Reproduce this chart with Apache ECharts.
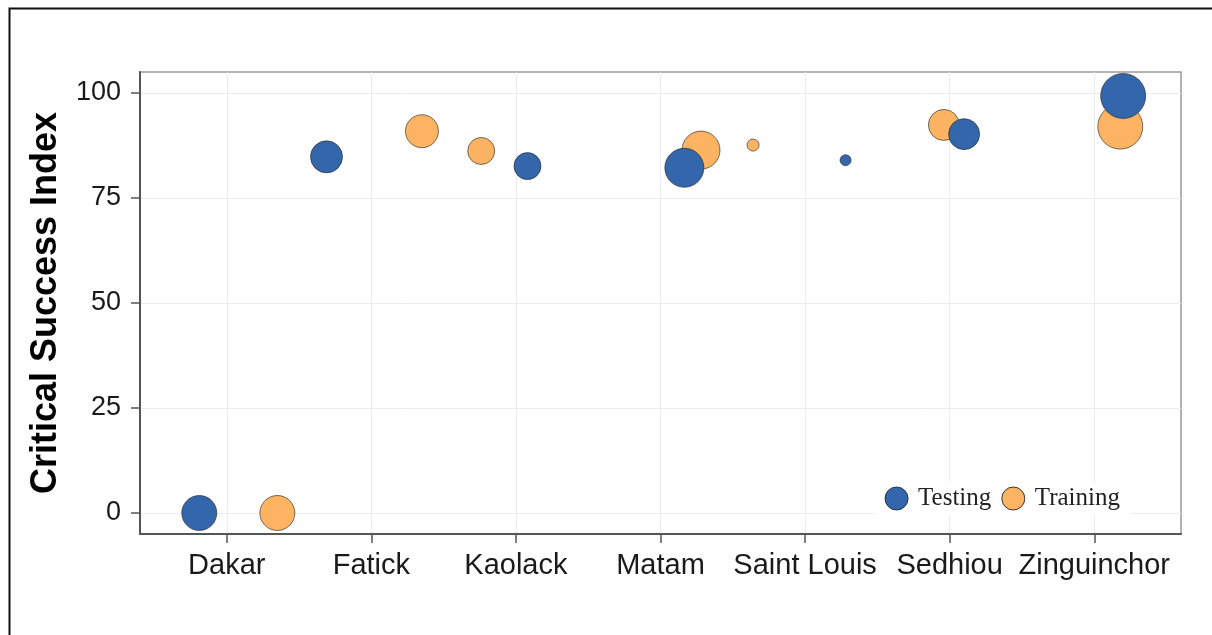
<!DOCTYPE html>
<html>
<head>
<meta charset="utf-8">
<script src="https://cdn.jsdelivr.net/npm/echarts@6/dist/echarts.min.js"></script>
<style>
html,body{margin:0;padding:0;background:#fff;}
#c{width:1212px;height:635px;}
</style>
</head>
<body>
<div id="c"></div>
<script>
// ---- data ----
const categories = ['Dakar', 'Fatick', 'Kaolack', 'Matam', 'Saint Louis', 'Sedhiou', 'Zinguinchor'];
const yTicks = [0, 25, 50, 75, 100];
const testingCSI = [0, 84.8, 82.6, 82.2, 84.0, 90.2, 99.3];
const trainingCSI = [0, 90.9, 86.2, 86.4, 87.6, 92.4, 92.0];
// horizontal jitter of each point, in category units
const testingJitter = [-0.19, -0.31, 0.08, 0.165, 0.28, 0.10, 0.20];
const trainingJitter = [0.35, 0.35, -0.24, 0.28, -0.36, -0.04, 0.18];
// bubble magnitude (drawn as diameter)
const testingBubble = [35, 32, 27, 39, 11, 31, 45];
const trainingBubble = [35, 33, 27, 38, 12, 31, 45];

const BLUE = '#3466ab';
const ORANGE = '#fdb462';

function build(vals, jit, bub) {
  return vals.map((v, i) => [i + jit[i], v, bub[i]]);
}
const catIdx = categories.map((_, i) => i);

const chart = echarts.init(document.getElementById('c'), null, {renderer: 'canvas'});
chart.setOption({
  animation: false,
  backgroundColor: '#ffffff',
  graphic: [{
    type: 'rect', left: 7, top: 6, silent: true,
    shape: {x: 0, y: 0, width: 1230, height: 660},
    style: {fill: 'none', stroke: '#111', lineWidth: 2}
  }],
  grid: {left: 140, right: 31, top: 72, bottom: 101, show: true, borderColor: '#9a9a9a', borderWidth: 1.5, backgroundColor: 'transparent'},
  legend: {
    data: ['Testing', 'Training'],
    right: 82, top: 482,
    backgroundColor: '#ffffff',
    padding: [4, 10, 4, 10],
    itemWidth: 23, itemHeight: 23, itemGap: 10,
    icon: 'circle',
    itemStyle: {borderColor: '#333', borderWidth: 1},
    textStyle: {fontFamily: 'Liberation Serif', fontSize: 25, color: '#222', padding: [0, 0, 0, 5]}
  },
  xAxis: {
    type: 'value', min: -0.6, max: 6.6, interval: 1,
    axisLine: {show: true, onZero: false, lineStyle: {color: '#555', width: 2}},
    axisTick: {show: true, length: 9, customValues: catIdx, lineStyle: {color: '#555', width: 1.5}},
    axisLabel: {
      customValues: catIdx, margin: 17,
      fontFamily: 'Liberation Sans', fontSize: 29, color: '#1a1a1a',
      formatter: v => (Number.isInteger(v) && categories[v] !== undefined) ? categories[v] : ''
    },
    splitLine: {show: true, lineStyle: {color: '#ececec', width: 1}}
  },
  yAxis: {
    type: 'value', min: -5, max: 105, interval: 25,
    name: 'Critical Success Index', nameLocation: 'middle', nameGap: 76, nameRotate: 90,
    nameTextStyle: {fontFamily: 'Liberation Sans', fontWeight: 'bold', fontSize: 36, color: '#000'},
    axisLine: {show: true, onZero: false, lineStyle: {color: '#555', width: 2}},
    axisTick: {show: true, length: 9, customValues: yTicks, lineStyle: {color: '#555', width: 1.5}},
    axisLabel: {
      customValues: yTicks, margin: 19,
      fontFamily: 'Liberation Sans', fontSize: 27, color: '#1a1a1a',
      formatter: v => yTicks.includes(v) ? String(v) : ''
    },
    splitLine: {show: true, lineStyle: {color: '#ececec', width: 1}}
  },
  series: [
    {
      name: 'Training', type: 'scatter',
      data: build(trainingCSI, trainingJitter, trainingBubble),
      symbolSize: d => d[2],
      itemStyle: {color: ORANGE, borderColor: 'rgba(40,40,40,0.8)', borderWidth: 0.8, opacity: 1}
    },
    {
      name: 'Testing', type: 'scatter',
      data: build(testingCSI, testingJitter, testingBubble),
      symbolSize: d => d[2],
      itemStyle: {color: BLUE, borderColor: 'rgba(40,40,40,0.8)', borderWidth: 0.8, opacity: 1}
    }
  ]
});
</script>
</body>
</html>
